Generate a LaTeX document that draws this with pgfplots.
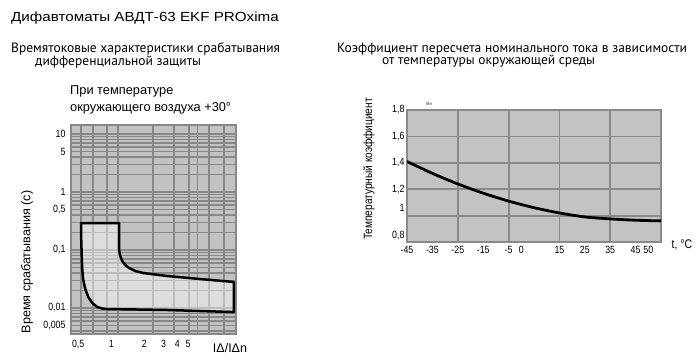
\documentclass[border=0pt]{standalone}
\usepackage{fontspec}
\setmainfont{Liberation Sans}
\newfontfamily\cond[FakeStretch=0.84]{Liberation Sans}
\newfontfamily\wide[FakeStretch=1.15]{Liberation Sans}
\newfontfamily\ptsans{PT Sans}
\usepackage{pgfplots}
\pgfplotsset{compat=1.18}
\definecolor{bgL}{HTML}{C2C2C2}
\definecolor{gridL}{HTML}{888888}
\definecolor{bgR}{HTML}{C3C3C3}
\definecolor{gridR}{HTML}{8A8A8A}
\begin{document}
\begin{tikzpicture}[x=1pt,y=1pt]
\path[use as bounding box] (0,0) rectangle (700,362);
% titles
\node[anchor=base west, inner sep=0, font=\wide\fontsize{13.2}{15}\selectfont] at (11,340) {Дифавтоматы АВДТ-63 EKF PROxima};
\node[anchor=base west, inner sep=0, font=\ptsans\fontsize{13.5}{15}\selectfont] at (11,309) {Времятоковые характеристики срабатывания};
\node[anchor=base west, inner sep=0, font=\ptsans\fontsize{13.5}{15}\selectfont] at (35,296) {дифференциальной защиты};
\node[anchor=base west, inner sep=0, font=\fontsize{12.8}{14}\selectfont] at (70,267) {При температуре};
\node[anchor=base west, inner sep=0, font=\fontsize{12.8}{14}\selectfont] at (70,251) {окружающего воздуха +30°};
\node[anchor=base west, inner sep=0, font=\ptsans\fontsize{13.5}{15}\selectfont] at (337,309) {Коэффициент пересчета номинального тока в зависимости};
\node[anchor=base west, inner sep=0, font=\ptsans\fontsize{13.5}{15}\selectfont] at (382,297) {от температуры окружающей среды};
% axis titles
\node[rotate=90, inner sep=0, font=\fontsize{12.6}{14}\selectfont] at (27,100) {Время срабатывания (с)};
\node[rotate=90, inner sep=0, font=\cond\fontsize{12}{14}\selectfont] at (369,193) {Температурный коэффициент};
\node[inner sep=0, font=\fontsize{12.5}{14}\selectfont] at (230,14) {IΔ/IΔn};
\node[inner sep=0, font=\cond\fontsize{12.5}{14}\selectfont] at (682,117) {t, °C};
\node[inner sep=0, font=\cond\fontsize{4.5}{5}\selectfont] at (429,258) {I/Iн};

% left chart
\begin{axis}[
 at={(71pt,28pt)}, anchor=south west, scale only axis, width=165pt, height=209pt,
 xmode=log, ymode=log, xmin=0.43, xmax=13.7, ymin=0.00356, ymax=14.3,
 axis background/.style={fill=bgL},
 axis line style={gridL, line width=1.8pt},
 xtick={0.5,1,2,3,4,5}, xticklabels={{0,5},1,2,3,4,5},
 ytick={0.005,0.01,0.1,0.5,1,5,10}, yticklabels={{0,005},{0,01},{0,1},{0,5},1,5,10},
 major tick length=0pt, minor tick length=0pt,
 tick label style={font=\cond\fontsize{10.5}{12}\selectfont},
 xticklabel style={yshift=-3pt},
 yticklabel style={xshift=-2pt},
 extra x ticks={0.534,0.679,0.91,1.158,2.41,3.74,5.12,6.11,7.78,10.65},
 extra x tick labels={},
 extra x tick style={grid=major, major grid style={gridL, line width=1.8pt}},
 extra y ticks={0.004,0.005,0.006,0.007,0.008,0.009,0.01,0.02,0.03,0.04,0.05,0.06,0.07,0.08,0.09,0.1,0.2,0.3,0.4,0.5,0.6,0.7,0.8,0.9,1,2,3,4,5,6,7,8,9,10},
 extra y tick labels={},
 extra y tick style={grid=major, major grid style={gridL, line width=1.4pt}},
]
\addplot[fill=white, fill opacity=0.45, draw=none] coordinates {
(0.533,0.292) (1.18,0.292) (1.18,0.1) (1.207,0.0788) (1.259,0.0646) (1.341,0.0551) (1.457,0.0489) (1.653,0.0435) (1.954,0.0401) (3.23,0.0356) (6.44,0.0316) (13.1,0.0281) (13.1,0.0085) (3.23,0.00924) (0.92,0.0096) (0.828,0.0098) (0.746,0.0104) (0.672,0.0122) (0.618,0.0155) (0.580,0.0213) (0.556,0.0304) (0.545,0.0452) (0.540,0.067) (0.533,0.15) (0.533,0.292)};
\addplot[black, line width=2.5pt, line join=round] coordinates {
(0.533,0.292) (1.18,0.292) (1.18,0.1) (1.207,0.0788) (1.259,0.0646) (1.341,0.0551) (1.457,0.0489) (1.653,0.0435) (1.954,0.0401) (3.23,0.0356) (6.44,0.0316) (13.1,0.0281) (13.1,0.0085) (3.23,0.00924) (0.92,0.0096) (0.828,0.0098) (0.746,0.0104) (0.672,0.0122) (0.618,0.0155) (0.580,0.0213) (0.556,0.0304) (0.545,0.0452) (0.540,0.067) (0.533,0.15) (0.533,0.292) (1.18,0.292)};
\end{axis}

% right chart
\begin{axis}[
 at={(407pt,120pt)}, anchor=south west, scale only axis, width=254pt, height=132pt,
 xmin=-45, xmax=55, ymin=0.8, ymax=1.8,
 axis background/.style={fill=bgR},
 axis line style={gridR, line width=1.8pt},
 xtick={-45,-35,-25,-15,-5,0,15,25,35,45,50},
 xticklabels={-45,-35,-25,-15,-5,0,15,25,35,45,50},
 ytick={0.85,1.06,1.2,1.4,1.6,1.8}, yticklabels={{0,8},1,{1,2},{1,4},{1,6},{1,8}},
 major tick length=0pt,
 tick label style={font=\cond\fontsize{10.5}{12}\selectfont},
 xticklabel style={yshift=-1pt},
 yticklabel style={xshift=1pt},
 extra x ticks={-25,-5,15,35}, extra x tick labels={},
 extra x tick style={grid=major, major grid style={gridR, line width=1.8pt}},
 extra y ticks={1,1.2,1.4,1.6}, extra y tick labels={},
 extra y tick style={grid=major, major grid style={gridR, line width=1.8pt}},
]
\addplot[black, line width=2.8pt, smooth] coordinates {(-45,1.41) (-35,1.32) (-25,1.24) (-15,1.17) (-5,1.11) (5,1.06) (15,1.02) (25,0.99) (35,0.975) (45,0.965) (55,0.96)};
\end{axis}
\end{tikzpicture}
\end{document}
